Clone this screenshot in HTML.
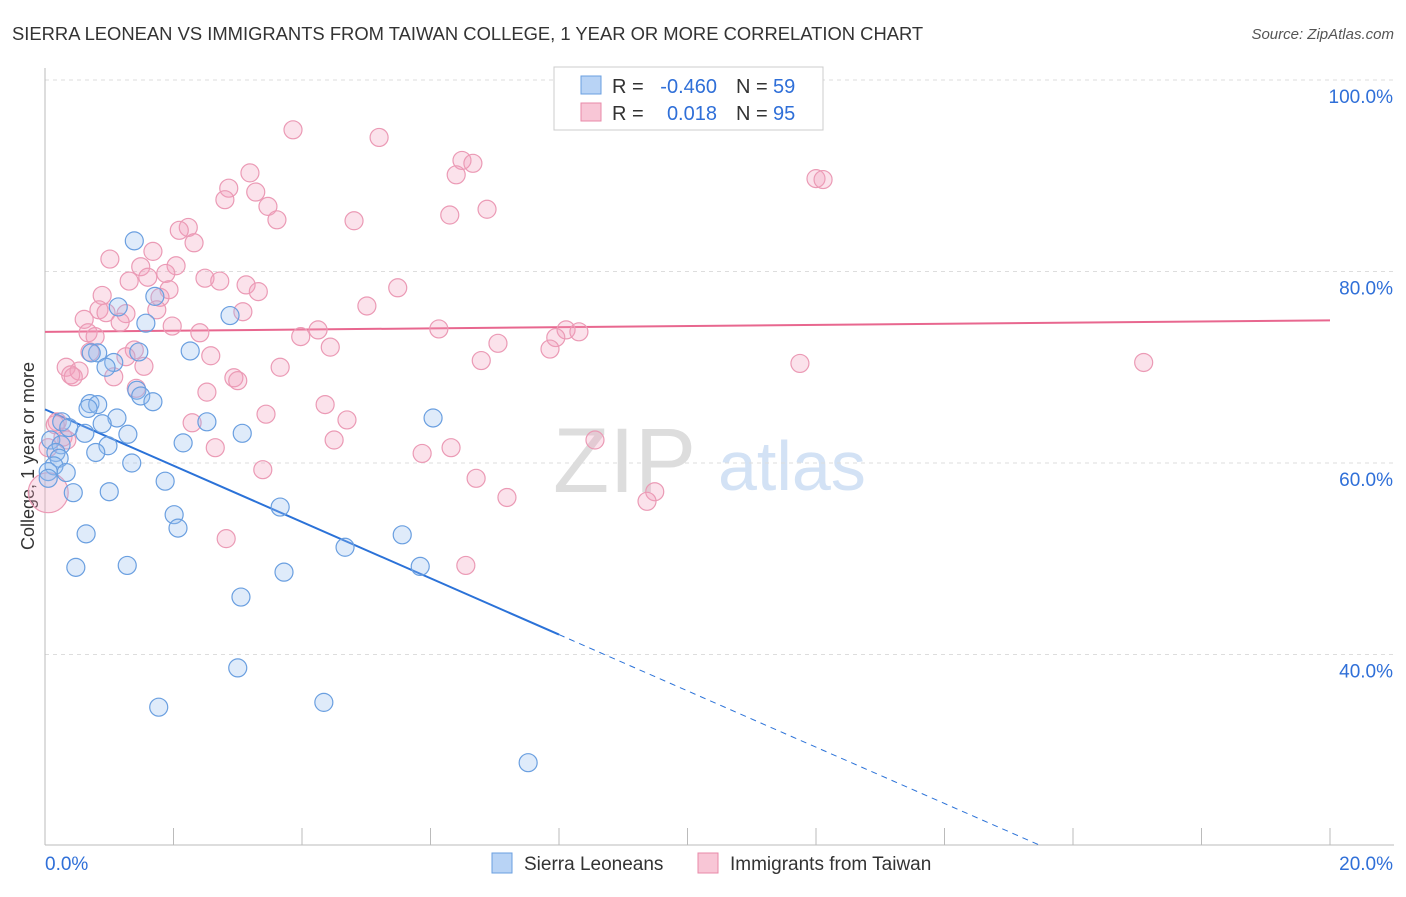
<!DOCTYPE html>
<html><head><meta charset="utf-8"><style>
body{margin:0;background:#fff;font-family:"Liberation Sans",sans-serif}
svg text{font-family:"Liberation Sans",sans-serif}
</style></head><body>
<svg id="chart" width="1406" height="892" viewBox="0 0 1406 892">
<text x="12" y="40" font-size="18.4" fill="#333">SIERRA LEONEAN VS IMMIGRANTS FROM TAIWAN COLLEGE, 1 YEAR OR MORE CORRELATION CHART</text>
<text x="1394" y="39" font-size="15" fill="#555" text-anchor="end" font-style="italic">Source: ZipAtlas.com</text>
<text x="34" y="456" font-size="18" fill="#333" text-anchor="middle" transform="rotate(-90 34 456)">College, 1 year or more</text>
<g><text x="553" y="492" font-size="92" fill="#ddd" font-family="Liberation Serif,serif">ZIP</text><text x="718" y="490" font-size="70" fill="#d3e2f5">atlas</text></g>
<g id="grid"></g><g id="axes"></g><g id="lines"></g><g id="pts"></g>
<g>
<rect x="554" y="67" width="269" height="63" fill="#fff" stroke="#ccc"/>
<rect x="581" y="76" width="20" height="18" fill="#b8d3f5" stroke="#6a9fe0"/>
<rect x="581" y="103" width="20" height="18" fill="#f8c6d6" stroke="#e88aa8"/>
<text x="612" y="93" font-size="20" fill="#333">R =</text>
<text x="717" y="93" font-size="20" fill="#2f6fd8" text-anchor="end">-0.460</text>
<text x="736" y="93" font-size="20" fill="#333">N =</text>
<text x="773" y="93" font-size="20" fill="#2f6fd8">59</text>
<text x="612" y="120" font-size="20" fill="#333">R =</text>
<text x="717" y="120" font-size="20" fill="#2f6fd8" text-anchor="end">0.018</text>
<text x="736" y="120" font-size="20" fill="#333">N =</text>
<text x="773" y="120" font-size="20" fill="#2f6fd8">95</text>
</g>
<g>
<rect x="492" y="853" width="20" height="20" fill="#b8d3f5" stroke="#6a9fe0"/><text x="524" y="870" font-size="19" fill="#333">Sierra Leoneans</text>
<rect x="698" y="853" width="20" height="20" fill="#f8c6d6" stroke="#e88aa8"/><text x="730" y="870" font-size="19" fill="#333">Immigrants from Taiwan</text>
</g>
</svg>
<script>
const xTicks=[0,2,4,6,8,10,12,14,16,18,20];
const yTicks=[40,60,80,100];
const yTickLabels=["40.0%","60.0%","80.0%","100.0%"];
const blueX=[1.39,1.14,1.71,1.57,2.88,0.82,0.72,1.07,1.46,0.95,2.26,1.43,1.49,1.68,0.70,0.82,0.67,1.12,0.89,6.04,2.52,0.26,0.37,0.62,1.29,3.07,0.09,0.25,0.98,2.15,0.79,0.17,0.22,1.35,0.14,0.05,0.33,1.87,1.00,0.44,3.66,2.01,2.07,0.64,5.56,4.67,0.48,1.28,5.84,3.72,3.05,3.00,1.77,4.34,7.52,0.05];
const blueY=[83.2,76.3,77.4,74.6,75.4,71.5,71.5,70.5,71.6,70.0,71.7,67.6,67.0,66.4,66.2,66.1,65.7,64.7,64.1,64.7,64.3,64.3,63.7,63.1,63.0,63.1,62.4,61.9,61.8,62.1,61.1,61.1,60.5,60.0,59.7,59.1,59.0,58.1,57.0,56.9,55.4,54.6,53.2,52.6,52.5,51.2,49.1,49.3,49.2,48.6,46.0,38.6,34.5,35.0,28.7,58.4];
const pinkX=[3.86,5.20,6.49,6.66,6.40,3.19,12.0,12.11,2.86,3.28,2.80,3.47,6.88,6.30,4.81,3.61,2.23,2.09,2.32,1.68,1.01,2.04,1.49,1.88,1.60,2.49,2.72,1.31,3.13,1.93,3.32,0.89,1.79,5.49,5.01,0.84,0.95,1.26,3.08,0.61,1.17,1.74,1.98,2.41,4.25,6.13,3.98,8.11,8.31,7.95,0.67,0.78,7.05,4.44,7.86,1.39,0.70,2.58,6.79,1.26,11.75,17.10,3.66,0.33,0.53,1.54,0.40,0.44,1.07,2.94,3.00,2.52,1.42,4.36,3.44,4.70,0.19,2.29,0.28,0.34,4.50,8.56,2.65,6.32,5.87,3.39,6.71,7.19,9.49,9.37,2.82,6.55,0.16,0.05,0.05];
const pinkY=[94.8,94.0,91.6,91.3,90.1,90.3,89.7,89.6,88.7,88.3,87.5,86.8,86.5,85.9,85.3,85.4,84.6,84.3,83.0,82.1,81.3,80.6,80.5,79.8,79.4,79.3,79.0,79.0,78.6,78.1,77.9,77.5,77.3,78.3,76.4,76.0,75.7,75.6,75.8,75.0,74.7,76.0,74.3,73.6,73.9,74.0,73.2,73.9,73.7,73.1,73.6,73.2,72.5,72.1,71.9,71.8,71.6,71.2,70.7,71.1,70.4,70.5,70.0,70.0,69.6,70.1,69.2,69.0,69.0,68.9,68.6,67.4,67.8,66.1,65.1,64.5,64.3,64.2,62.7,62.4,62.4,62.4,61.6,61.6,61.0,59.3,58.4,56.4,57.0,56.0,52.1,49.3,64.0,61.6,56.9];
const pinkR=pinkX.map((_,i)=>i===pinkX.length-1?20:9);
const blueTrend=[65.6,-2.94];
const pinkTrend=[73.7,0.06];
const X0=45,X1=1330,YT=80,YB=845;
const sx=v=>X0+(X1-X0)*v/20;
const sy=v=>YT+(100-v)*191.5/20;
const NS="http://www.w3.org/2000/svg";
function mk(p,t,a){const e=document.createElementNS(NS,t);for(const k in a)e.setAttribute(k,a[k]);document.getElementById(p).appendChild(e);return e;}
yTicks.forEach((v,i)=>{
 const g=mk('grid','line',{x1:X0,x2:1394,y1:sy(v),y2:sy(v),stroke:'#ddd','stroke-dasharray':'4,4'});
 
 
 const t=mk('axes','text',{x:1393,y:sy(v)+23,'font-size':19,fill:'#2f6fd8','text-anchor':'end'});
 t.textContent=yTickLabels[i];
 
 
});
mk('axes','line',{x1:X0,x2:X0,y1:68,y2:YB,stroke:'#bbb'});
const xa=mk('axes','line',{x1:X0,x2:1394,y1:YB,y2:YB,stroke:'#bbb'});


xTicks.forEach(v=>{const l=mk('axes','line',{x1:sx(v),x2:sx(v),y1:828,y2:YB,stroke:'#bbb'});
 
 });
const xl0=mk('axes','text',{x:45,y:870,'font-size':19,fill:'#2f6fd8'});xl0.textContent='0.0%';


const xl1=mk('axes','text',{x:1393,y:870,'font-size':19,fill:'#2f6fd8','text-anchor':'end'});xl1.textContent='20.0%';


pinkX.forEach((x,i)=>{const c=mk('pts','circle',{cx:sx(x),cy:sy(pinkY[i]),r:pinkR[i],fill:'rgba(242,160,188,0.3)',stroke:'#eb9ab5','stroke-width':1.2});
 
 });
blueX.forEach((x,i)=>{const c=mk('pts','circle',{cx:sx(x),cy:sy(blueY[i]),r:9,fill:'rgba(150,190,240,0.3)',stroke:'#6a9fe0','stroke-width':1.2});
 
 });
const by=x=>blueTrend[0]+blueTrend[1]*x;
const bl=mk('lines','line',{x1:sx(0),y1:sy(by(0)),x2:sx(8),y2:sy(by(8)),stroke:'#2b72d8','stroke-width':2});


const yEnd=100-(YB-YT)*20/191.5, xEnd=(yEnd-blueTrend[0])/blueTrend[1];
const bd=mk('lines','line',{x1:sx(8),y1:sy(by(8)),x2:sx(xEnd),y2:YB,stroke:'#2b72d8','stroke-width':1,'stroke-dasharray':'6,5'});


const pl=mk('lines','line',{x1:sx(0),y1:sy(pinkTrend[0]),x2:sx(20),y2:sy(pinkTrend[0]+pinkTrend[1]*20),stroke:'#e8678f','stroke-width':2});


</script>
</body></html>
